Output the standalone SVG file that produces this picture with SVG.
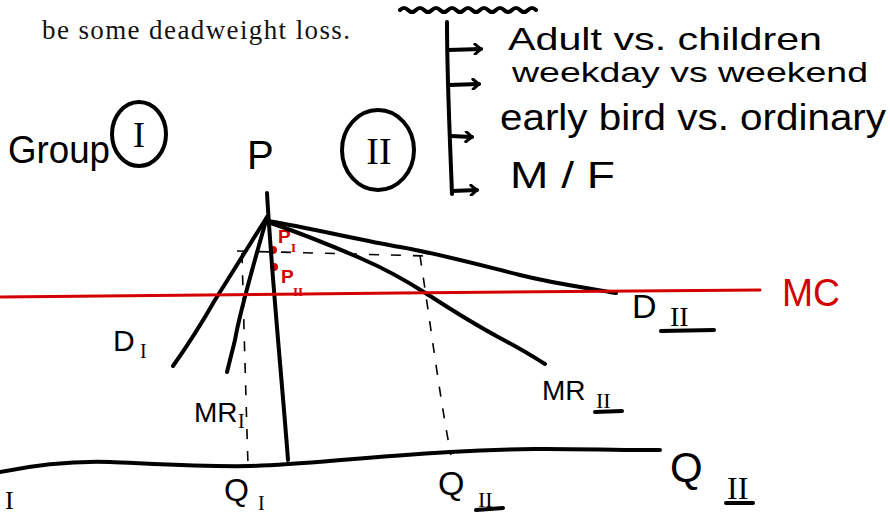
<svg xmlns="http://www.w3.org/2000/svg" width="890" height="516" viewBox="0 0 890 516">
<style>
.ink{fill:none;stroke:#000;stroke-width:4;stroke-linecap:round;stroke-linejoin:round}
.thin{fill:none;stroke:#000;stroke-width:1.6;stroke-linecap:round}
.dash{fill:none;stroke:#000;stroke-width:1.6;stroke-dasharray:10 12}
.red{fill:none;stroke:#d40000;stroke-width:3;stroke-linecap:round}
.hw{font-family:"Liberation Sans",Arial,sans-serif;fill:#000}
.rn{font-family:"Liberation Serif","Times New Roman",serif;fill:#000}
.print{font-family:"Liberation Serif","Times New Roman",serif;fill:#111;font-size:27px}
.rt{fill:#d40000}
</style>
<defs>
<marker id="head" viewBox="0 0 10 12" refX="8" refY="6" markerWidth="10" markerHeight="12" markerUnits="userSpaceOnUse" orient="auto">
<path d="M2,1 L8,6 L2,11" fill="none" stroke="#000" stroke-width="3" stroke-linecap="round"/>
</marker>
</defs>
<rect width="890" height="516" fill="#fff"/>

<g id="printed-text">
<text class="print" x="42" y="39" textLength="308" lengthAdjust="spacing">be some deadweight loss.</text>
</g>

<g id="group-label">
<text class="hw" x="8" y="163" font-size="38" textLength="102" lengthAdjust="spacingAndGlyphs">Group</text>
<ellipse class="ink" cx="139" cy="134" rx="27" ry="32"/>
<text class="rn" x="139" y="147" font-size="36" text-anchor="middle">I</text>
</g>

<g id="p-label">
<text class="hw" x="247" y="169" font-size="40">P</text>
</g>

<g id="group-two">
<ellipse class="ink" cx="378" cy="150" rx="36" ry="40"/>
<text class="rn" x="379" y="164" font-size="38" text-anchor="middle">II</text>
</g>

<g id="list">
<text class="hw" x="508" y="50" font-size="32" textLength="314" lengthAdjust="spacingAndGlyphs">Adult vs. children</text>
<text class="hw" x="512" y="82" font-size="28" textLength="356" lengthAdjust="spacingAndGlyphs">weekday vs weekend</text>
<text class="hw" x="500" y="130" font-size="36" textLength="386" lengthAdjust="spacingAndGlyphs">early bird vs. ordinary</text>
<text class="hw" x="510" y="188" font-size="36" textLength="105" lengthAdjust="spacingAndGlyphs">M / F</text>
</g>

<g id="labels">
<text class="hw" x="113" y="351" font-size="30">D</text>
<text class="rn" x="140" y="358" font-size="20">I</text>
<text class="hw" x="194" y="422" font-size="28">MR</text>
<text class="rn" x="238" y="428" font-size="20">I</text>
<text class="hw" x="224" y="501" font-size="32">Q</text>
<text class="rn" x="258" y="510" font-size="20">I</text>
<text class="rn" x="5" y="509" font-size="26">I</text>
<text class="hw" x="438" y="495" font-size="34">Q</text>
<text class="rn" x="478" y="507" font-size="22">II</text>
<text class="hw" x="670" y="482" font-size="42">Q</text>
<text class="rn" x="727" y="499" font-size="32">II</text>
<text class="hw" x="542" y="400" font-size="28">MR</text>
<text class="rn" x="596" y="408" font-size="22">II</text>
<text class="hw" x="632" y="318" font-size="34">D</text>
<text class="rn" x="670" y="326" font-size="28">II</text>
<text class="hw rt" x="782" y="306" font-size="38" textLength="58" lengthAdjust="spacingAndGlyphs">MC</text>
<text class="hw rt" x="278" y="243" font-size="19" font-weight="bold">P</text>
<text class="rn rt" x="291" y="252" font-size="13" font-weight="bold">I</text>
<text class="hw rt" x="281" y="283" font-size="19" font-weight="bold">P</text>
<text class="rn rt" x="293" y="296" font-size="13" font-weight="bold">II</text>
<circle cx="273" cy="250" r="4" fill="#d40000"/>
<circle cx="274" cy="267" r="4" fill="#d40000"/>
</g>

<g id="connectors">
<path class="ink" stroke-width="3" d="M400,10 q4,-4 8,0 t8,0 t8,0 t8,0 t8,0 t8,0 t8,0 t8,0 t8,0 t8,0 t8,0 t8,0 t8,0 t8,0 t8,0 t8,0 t8,0"/>
<path class="ink" d="M447,22 C447,80 450,140 452,194"/>
<path class="ink" d="M448,50 L481,49" marker-end="url(#head)"/>
<path class="ink" d="M449,85 L479,84" marker-end="url(#head)"/>
<path class="ink" d="M451,136 L472,137" marker-end="url(#head)"/>
<path class="ink" d="M452,191 L477,190" marker-end="url(#head)"/>
<path class="ink" d="M267,193 C272,280 282,380 288,460"/>
<path class="ink" d="M267,217 L215,300 Q195,335 173,366"/>
<path class="ink" d="M267,217 C255,260 240,310 235,340 L227,372"/>
<path class="ink" d="M268,221 C310,228 360,240 400,247 S480,265 520,275 S590,288 616,293"/>
<path class="ink" d="M268,222 C300,233 330,245 360,258 S410,283 427,294 S470,322 500,338 S535,358 545,364"/>
<path class="red" d="M0,297 L400,293 L760,290"/>
<path class="ink" d="M0,472 C40,464 80,461 110,462 S200,467 250,466 S350,458 450,452 S600,451 660,450"/>
<path class="dash" d="M237,251 L428,256"/>
<path class="dash" d="M242,253 C244,330 246,400 248,466"/>
<path class="dash" d="M420,256 C430,320 440,400 451,455"/>
<path class="ink" stroke-width="3" d="M476,510 L503,508"/>
<path class="ink" stroke-width="3" d="M726,503 L753,503"/>
<path class="ink" stroke-width="3" d="M595,412 L622,411"/>
<path class="ink" stroke-width="3" d="M661,331 L714,330"/>
</g>
</svg>
